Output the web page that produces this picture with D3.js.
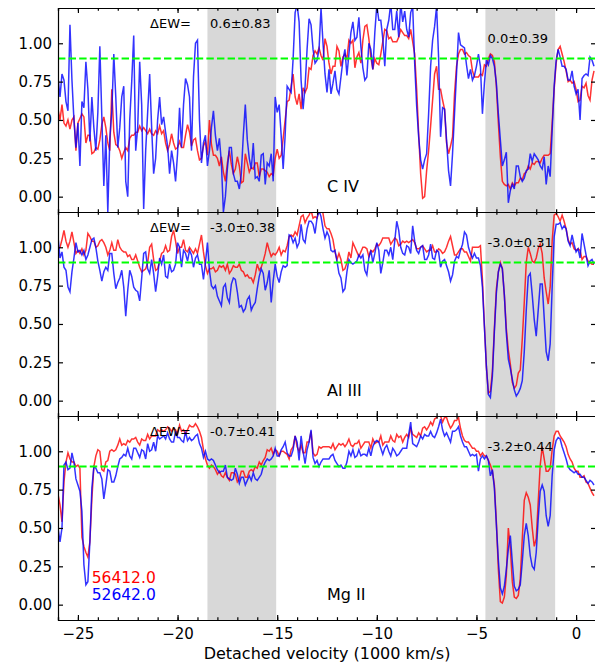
<!DOCTYPE html>
<html>
<head>
<meta charset="utf-8">
<script src="https://cdn.jsdelivr.net/npm/d3@7/dist/d3.min.js"></script>
<style>
  body { margin: 0; background: #fff; }
  svg text { font-family: "DejaVu Sans", sans-serif; }
</style>
</head>
<body>
<script>
// spectra sampled every 100 km/s from -26000 km/s
const vStart = -26, vStep = 0.1

const civRed = [.57,.50,.60,.48,.46,.50,.44,.50,.52,.30,.48,.51,.54,.52,.35,.40,.40,.28,.29,.32,
  .31,.37,.47,.52,.45,.35,.30,.70,.42,.34,.33,.30,.25,.29,.32,.30,.38,.40,.40,.42,
  .42,.46,.43,.45,.43,.41,.44,.41,.40,.43,.41,.46,.41,.43,.35,.30,.34,.41,.35,.31,
  .32,.36,.32,.32,.40,.47,.42,.33,.37,.38,.30,.24,.25,.33,.36,.27,.50,.34,.27,.27,
  .25,.20,.26,.16,.10,.22,.30,.21,.15,.18,.26,.20,.09,.10,.28,.22,.16,.19,.18,.22,
  .22,.13,.18,.18,.17,.16,.13,.15,.14,.25,.31,.25,.27,.38,.50,.62,.63,.72,.80,.65,.60,
  .67,.57,.71,.68,.71,.84,.83,.92,.95,.93,.97,.92,.89,1.03,.98,.87,.80,.85,.85,.98,
  .95,.85,.91,.93,.90,1.02,1.0,1.02,.84,.91,.94,.87,1.02,1.11,1.12,1.03,.91,.83,.90,.87,
  .86,.93,1.01,1.09,1.08,1.03,1.04,1.01,1.01,1.01,1.04,1.09,1.07,1.05,1.05,1.03,1.09,1.01,.93,.70,
  .41,.15,-.01,0,.17,.30,.46,.63,.80,.85,.70,.70,.63,.57,.35,.28,.33,.39,.67,.85,
  .93,.96,.96,.93,.94,.92,.91,.82,.78,.78,.78,.80,.79,.86,.85,.90,.93,.92,.88,.72,
  .48,.26,.10,.08,.07,.08,.05,.09,.07,.09,.09,.12,.11,.15,.16,.20,.18,.22,.21,.23,
  .23,.22,.25,.27,.27,.27,.28,.48,.70,.87,.96,.98,.93,.88,.82,.75,.76,.74,.75,.70,
  .62,.63,.72,.71,.74,.66,.63,.76,.82]

const civBlue = [.78,.65,.80,.76,.62,.56,1.12,.76,.50,.32,.48,.20,.62,.58,.88,.70,.36,.65,.45,.30,
  .55,.98,.52,.07,.40,-.10,.38,.55,.93,.65,.32,.45,.65,.72,.10,.00,.50,.75,1.05,.30,
  .45,.88,.60,-.08,.30,.55,.80,.45,.15,.25,.50,.65,.47,.52,.42,.33,.15,.30,.22,.10,
  .28,.58,.32,.60,.77,.73,.65,.30,.78,1.00,1.02,.50,.22,.35,.40,.20,.30,.45,.56,.40,
  .30,.38,.22,-.10,.00,.18,.32,.32,.15,.10,.10,.05,.15,.40,.60,.37,.25,.18,.35,.12,
  .13,.10,.27,.28,.08,.22,.20,.28,.10,.65,.55,.60,.40,.18,.40,.72,.70,.68,.90,1.20,1.25,
  1.14,.76,.57,.72,.96,1.16,1.12,.96,.87,.89,.96,1.23,1.0,.80,.68,.83,.67,.74,.82,.70,
  .67,.78,.89,.96,.79,.93,1.07,1.14,1.02,1.04,1.17,.98,.84,.76,.78,1.0,.96,.83,1.07,1.25,
  1.15,1.15,1.03,.85,1.09,1.15,1.26,1.09,1.09,1.21,1.04,1.26,1.14,1.21,1.09,1.04,1.20,1.24,.87,.59,
  .39,.24,.18,.24,.28,.54,.85,1.02,1.11,1.24,.91,.39,.58,.57,.37,.17,.07,.28,.54,.80,
  1.07,.99,.98,.97,.86,.77,.83,.76,.79,.85,.93,.85,.54,.74,.89,.86,.92,.90,.85,.74,
  .54,.37,.20,.24,.29,-.04,.04,.08,.05,.20,.20,.13,.10,.12,.17,.18,.28,.23,.28,.26,
  .24,.20,.18,.26,.08,.20,.13,.43,.72,.89,.96,.91,.85,.85,.83,.76,.76,.82,.72,.67,
  .70,.50,.77,.79,.80,.79,.91,.89,.85]

const al3Red = [.99,1.00,1.05,1.11,1.04,1.00,1.04,1.10,1.03,.96,.98,.96,.99,.95,.98,1.09,1.07,1.04,1.04,1.00,
  1.01,1.04,1.05,1.03,1.00,.95,.98,1.03,.98,.98,1.05,1.00,.98,.97,.97,.94,.95,.92,.92,.95,
  .91,.87,.84,.85,.86,.90,1.00,1.02,.92,.85,.86,.91,.96,.97,1.01,.97,.98,1.07,1.11,1.04,
  .96,1.00,1.00,1.05,.98,.97,1.00,.98,.96,.99,.96,1.02,1.08,.97,.88,.83,.86,.86,.87,.84,
  .85,.88,.87,.88,.85,.89,.83,.85,.88,.87,.87,.89,.85,.84,.81,.82,.80,.80,.77,.82,
  .89,.85,.87,.91,.96,1.03,.98,.94,.96,.95,.97,1.00,.95,.98,.97,1.01,1.07,1.08,1.07,1.10,1.08,
  1.14,1.20,1.21,1.16,1.19,1.21,1.24,1.19,1.20,1.19,1.25,1.28,1.22,1.14,1.12,1.12,1.09,1.05,.97,.92,
  .96,.92,.85,.86,.90,.97,.93,1.03,1.00,.97,.94,.97,1.00,1.00,.99,.94,.98,.97,.99,1.02,
  1.01,1.03,1.06,1.06,1.06,1.06,1.02,1.04,1.06,1.05,1.01,1.02,1.04,1.03,1.04,1.03,1.04,1.05,1.03,.99,
  .99,1.00,1.01,.99,.97,.98,.98,1.01,.97,.97,.99,.98,.96,.97,1.00,1.04,1.07,1.01,.95,.95,
  .97,.99,.99,.97,.97,.94,.91,1.00,1.00,1.00,1.00,1.01,.79,.49,.22,.05,.06,.19,.47,.73,
  .84,.90,.86,.69,.47,.33,.24,.12,.08,.10,.18,.20,.40,.64,.90,1.00,.96,.91,.90,.93,
  .99,1.02,.96,.80,.71,.63,.74,1.04,1.21,1.22,1.20,1.17,1.21,1.17,1.12,1.05,1.02,1.03,.99,.98,
  .99,.98,.92,.94,.94,.91,.90,.89,.89]

const al3Blue = [1.07,.93,.97,.87,.85,.74,.71,.84,.93,1.03,.97,.98,.95,.98,.92,.95,1.00,1.05,1.06,1.00,
  .91,.85,.78,.84,.87,.85,.96,.96,.83,.73,.77,.80,.85,.74,.55,.72,.85,.81,.74,.72,
  .71,.65,.80,.96,.97,.86,.83,.92,.83,.71,.81,.93,.89,.95,.81,.80,.89,.84,.85,.89,
  1.03,1.00,.87,.98,.96,.91,.98,.95,.87,.93,.95,.89,.89,.79,.90,1.03,.85,.75,.73,.75,
  .68,.65,.62,.74,.76,.67,.64,.76,.80,.79,.71,.61,.62,.58,.60,.66,.68,.59,.62,.64,
  .73,.81,.86,.83,.72,.77,.85,.64,.78,.89,.81,.77,.84,.88,.87,.88,1.08,1.07,1.03,1.06,1.00,
  1.03,1.15,1.05,1.03,1.12,1.17,1.17,1.15,1.09,1.19,1.24,1.20,1.12,1.06,1.10,1.07,.98,.97,.98,.91,
  .83,.80,.71,.73,.84,.92,.90,.89,.90,.91,.95,.93,.95,.85,.82,.93,.98,.90,.96,1.03,
  .98,.83,.90,.98,.98,.95,1.00,.92,1.04,1.17,1.11,1.00,.96,.95,1.01,1.00,.96,1.14,1.04,.98,
  .96,1.00,1.01,.92,.92,.95,1.02,.93,.92,.98,.97,.87,.91,.92,.88,.84,.78,.82,.91,.94,
  .93,.98,1.02,1.10,1.08,1.00,.96,.93,.96,.93,.93,.88,.74,.48,.22,.04,.02,.16,.45,.70,
  .84,.89,.86,.69,.44,.27,.21,.14,.07,.03,.05,.08,.13,.32,.59,.81,.83,.69,.53,.42,
  .59,.76,.76,.54,.32,.26,.37,.74,1.07,1.15,1.15,1.16,1.12,1.14,1.12,1.04,1.01,1.08,1.02,.97,
  .99,.93,1.09,1.02,.95,.88,.91,.92,.89]

const mg2Red = [.72,.65,.54,.80,.93,.99,.95,.93,.93,.90,.91,.89,.44,.38,.34,.31,.41,.69,.90,.97,
  1.01,1.00,.88,.87,.93,.94,1.00,1.01,1.00,1.01,1.04,1.08,1.04,1.05,1.04,1.07,1.06,1.08,1.08,1.09,
  1.06,1.04,1.08,1.07,1.07,1.11,1.08,1.10,1.10,1.10,1.14,1.13,1.14,1.13,1.14,1.16,1.15,1.13,1.15,1.14,
  1.11,1.17,1.13,1.14,1.11,1.14,1.17,1.16,1.16,1.18,1.16,1.13,1.09,1.01,.95,.91,.89,.91,.90,.88,
  .85,.87,.84,.83,.86,.83,.81,.86,.86,.85,.80,.82,.87,.87,.83,.83,.87,.88,.87,.90,
  .89,.93,.91,.94,.96,1.01,1.00,1.02,.98,1.01,1.00,.97,1.00,1.00,.99,.98,.95,1.01,1.03,1.10,1.03,
  1.00,1.04,.99,.99,1.06,1.06,1.13,.99,.97,.98,1.03,1.02,1.03,1.03,1.03,1.03,1.02,1.05,1.01,1.03,
  1.05,1.04,1.05,1.03,1.05,1.08,1.04,1.03,1.05,1.05,1.07,1.02,1.04,1.06,1.06,1.06,1.02,1.08,1.05,1.06,
  1.06,1.10,1.04,1.06,1.06,1.06,1.10,1.07,1.06,1.11,1.09,1.10,1.06,1.09,1.11,1.09,1.15,1.11,1.10,1.09,
  1.12,1.10,1.15,1.16,1.14,1.16,1.19,1.17,1.21,1.22,1.25,1.23,1.19,1.22,1.22,1.18,1.15,1.17,1.20,1.20,
  1.22,1.15,1.10,1.07,1.06,1.06,1.04,1.02,1.02,1.00,1.00,.97,.99,.97,.97,.94,.91,.87,.78,.54,
  .23,.02,.01,.05,.19,.50,.37,.15,.05,.04,.06,.17,.43,.68,.73,.70,.65,.50,.38,.43,
  .67,.91,1.03,.95,.87,.87,.89,1.01,1.10,1.13,1.13,1.10,1.08,1.06,1.03,.98,.95,.93,.89,.87,
  .87,.83,.83,.84,.80,.79,.76,.73,.71]

const mg2Blue = [.50,.41,.50,.91,.93,.88,.89,.99,.93,.82,.78,.74,.61,.26,.13,.15,.41,.76,.90,.89,
  .86,.86,.82,.69,.78,.88,.87,.80,.80,.84,.90,.95,.96,.98,.97,1.02,.97,.95,1.02,1.02,
  .99,.96,1.01,1.00,.95,1.05,1.00,1.01,1.06,1.00,1.10,1.08,1.09,1.10,1.08,1.12,1.08,1.06,1.06,1.13,
  1.09,1.09,1.07,1.06,1.13,1.07,1.09,1.07,1.08,1.10,1.11,1.05,1.02,.96,1.00,.95,.94,.95,.94,.91,
  .88,.86,.87,.87,.91,.83,.82,.81,.82,.89,.85,.79,.83,.83,.78,.81,.84,.81,.86,.82,
  .81,.83,.85,.90,.93,.95,.94,.95,.97,1.02,.97,.97,1.01,1.03,1.06,.99,.97,.97,1.01,1.10,1.06,
  .94,1.10,1.00,.92,1.01,1.06,1.14,.96,.92,.94,.90,.93,.95,.95,.95,.95,.97,.98,.94,.92,
  .90,.91,.89,.89,.93,1.00,.97,1.01,.96,.97,1.01,.97,.98,.98,.97,1.02,.97,1.03,1.06,1.07,
  1.06,1.02,.98,1.02,1.04,1.00,.97,1.02,1.00,.97,.98,1.00,1.02,1.02,1.02,1.11,1.19,1.05,1.04,1.03,
  1.06,1.10,1.08,1.11,1.10,1.10,1.13,1.10,1.09,1.12,1.16,1.21,1.14,1.10,1.12,1.09,1.06,1.13,1.13,1.14,
  1.16,1.10,1.06,1.03,1.03,1.00,.97,.98,.97,.98,.87,.95,.97,.95,.97,.94,.84,.88,.76,.52,
  .29,.11,.07,.12,.23,.36,.45,.28,.12,.09,.10,.13,.28,.45,.53,.45,.32,.25,.23,.34,
  .56,.74,.78,.74,.58,.51,.58,.84,1.01,1.07,1.09,1.08,1.03,.99,.95,.90,.88,.87,.86,.87,
  .85,.85,.83,.83,.81,.79,.81,.80,.78]

const ions = ["C IV", "Al III", "Mg II"]
const dewLeft = ["0.6±0.83", "-3.0±0.38", "-0.7±0.41"]
const dewRight = ["0.0±0.39", "-3.0±0.31", "-3.2±0.44"]
const epochs = ["56412.0", "52642.0"]
const epochColors = ["#ff0000", "#0000ff"]
const shaded = [[-18.5, -15.05], [-4.55, -1.05]]
const continuum = 0.9
const yTickValues = [0, 0.25, 0.5, 0.75, 1.0]

const panels = [
  { ion: ions[0], left: dewLeft[0], right: dewRight[0], red: civRed, blue: civBlue },
  { ion: ions[1], left: dewLeft[1], right: dewRight[1], red: al3Red, blue: al3Blue },
  { ion: ions[2], left: dewLeft[2], right: dewRight[2], red: mg2Red, blue: mg2Blue }
]

let width = 595,
  height = 662,
  left = 58,
  right = 596,
  top0 = 8,
  panelHeight = 204

let svg = d3.select("body").append("svg")
  .attr("width", width)
  .attr("height", height)

let x = d3.scaleLinear().domain([-26, 1]).range([left, right])
let velocity = d3.range(civRed.length).map(i => vStart + i * vStep)

panels.forEach((p, k) => {
  let y0 = top0 + k * panelHeight
  let y = d3.scaleLinear().domain([-0.1, 1.23]).range([y0 + panelHeight, y0])

  let g = svg.append("g").attr("class", "panel")

  g.append("clipPath").attr("id", "clip" + k)
    .append("rect")
    .attr("x", left).attr("y", y0)
    .attr("width", right - left).attr("height", panelHeight)

  g.selectAll(".span").data(shaded).enter().append("rect")
    .attr("x", d => x(d[0]))
    .attr("width", d => x(d[1]) - x(d[0]))
    .attr("y", y0)
    .attr("height", panelHeight)
    .attr("fill", "#d8d8d8")

  let line = d3.line().x((d, i) => x(velocity[i])).y(d => y(d))
  let plot = g.append("g").attr("clip-path", `url(#clip${k})`)

  plot.append("path").datum(p.red)
    .attr("d", line)
    .attr("fill", "none")
    .attr("stroke", "#ff0000")
    .attr("stroke-opacity", 0.8)
    .attr("stroke-width", 1.5)

  plot.append("path").datum(p.blue)
    .attr("d", line)
    .attr("fill", "none")
    .attr("stroke", "#0000ff")
    .attr("stroke-opacity", 0.8)
    .attr("stroke-width", 1.5)

  plot.append("line")
    .attr("x1", left).attr("x2", right)
    .attr("y1", y(continuum)).attr("y2", y(continuum))
    .attr("stroke", "#00ff00")
    .attr("stroke-width", 2)
    .attr("stroke-dasharray", "7.4,3.2")

  // labels
  g.append("text")
    .attr("x", x(-21.38)).attr("y", y(1.10))
    .attr("font-size", 13)
    .text("ΔEW=")
  g.append("text")
    .attr("x", x(-18.37)).attr("y", y(1.10))
    .attr("font-size", 13)
    .text(p.left)
  g.append("text")
    .attr("x", x(-4.44)).attr("y", y(1.0))
    .attr("font-size", 13)
    .text(p.right)
  g.append("text")
    .attr("x", x(-12.5)).attr("y", y(0.03))
    .attr("font-size", 16)
    .text(p.ion)

  if (k == 2) {
    epochs.forEach((e, j) => {
      g.append("text")
        .attr("x", x(-24.31)).attr("y", y(j == 0 ? 0.142 : 0.032))
        .attr("font-size", 15.5)
        .attr("fill", epochColors[j])
        .text(e)
    })
  }

  // axes, ticks inside
  let styleAxis = sel => {
    sel.selectAll(".domain").attr("stroke", "#000").attr("stroke-width", 1.2)
    sel.selectAll(".tick line").attr("stroke", "#000").attr("stroke-width", 1.2)
    sel.selectAll("text").attr("font-family", "DejaVu Sans").attr("font-size", 15).attr("fill", "#000")
  }

  let minor = d3.range(-26, 1, 1)
  let major = d3.range(-25, 1, 5)

  ;[["bottom", y0 + panelHeight], ["top", y0]].forEach(([side, yy]) => {
    let mk = side == "bottom" ? d3.axisBottom : d3.axisTop
    g.append("g").attr("transform", `translate(0,${yy})`)
      .call(mk(x).tickValues(minor).tickSize(-2.8).tickFormat(""))
      .call(styleAxis)
    g.append("g").attr("transform", `translate(0,${yy})`)
      .call(mk(x).tickValues(major).tickSizeInner(-5).tickSizeOuter(0).tickPadding(8)
        .tickFormat(side == "bottom" && k == 2 ? d3.format("d") : ""))
      .call(styleAxis)
  })

  g.append("g").attr("transform", `translate(${left},0)`)
    .call(d3.axisLeft(y).tickValues(yTickValues).tickSizeInner(-5).tickSizeOuter(0)
      .tickPadding(6).tickFormat(d3.format(".2f")))
    .call(styleAxis)
  g.append("g").attr("transform", `translate(${right},0)`)
    .call(d3.axisRight(y).tickValues(yTickValues).tickSizeInner(-5).tickSizeOuter(0).tickFormat(""))
    .call(styleAxis)
})

svg.append("text")
  .attr("x", (left + right) / 2)
  .attr("y", 659)
  .attr("text-anchor", "middle")
  .attr("font-size", 16)
  .text("Detached velocity (1000 km/s)")
</script>
</body>
</html>
